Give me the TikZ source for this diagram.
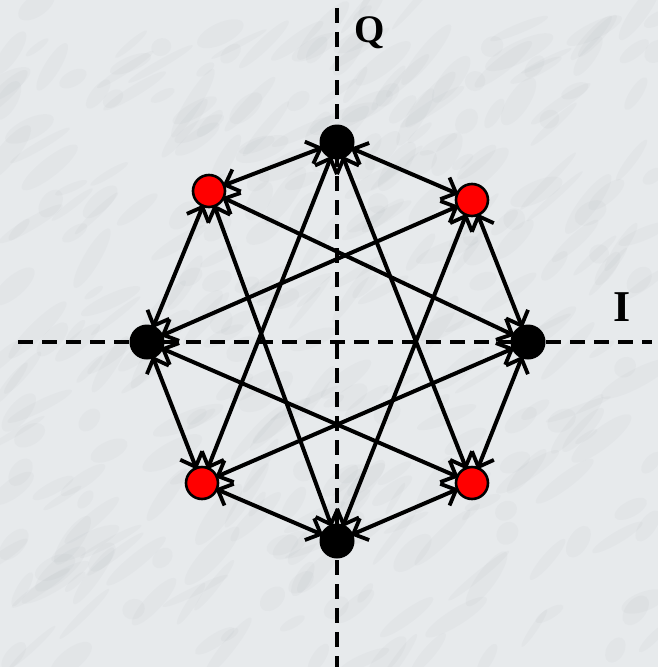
\documentclass[tikz,border=0pt]{standalone}
\usepackage{fontspec}
\setmainfont{Liberation Serif}
\usetikzlibrary{calc}
\definecolor{marble}{RGB}{231,234,236}
\definecolor{marbledark}{RGB}{140,146,152}
\definecolor{ptred}{RGB}{255,0,0}
\tikzset{
  blackpt/.style={circle, fill=black, minimum size=35pt, inner sep=0pt},
  redpt/.style={circle, fill=ptred, draw=black, line width=2.6pt, minimum size=32pt, inner sep=0pt},
  axisline/.style={line width=3.2pt, dash pattern=on 15pt off 9pt},
  trans/.style={line width=4pt},
  barbline/.style={line width=3.8pt, line cap=butt, line join=miter},
  axlabel/.style={inner sep=0pt}
}
\begin{document}
\begin{tikzpicture}[x=1pt,y=-1pt]
\useasboundingbox (0,0) rectangle (658,667);
\fill[marble] (0,0) rectangle (658,667);
% mottled marble texture
\pgfmathsetseed{7}
\begin{scope}[marbledark]
\foreach \k in {1,...,360}{
  \pgfmathsetmacro{\px}{rnd*658}
  \pgfmathsetmacro{\py}{rnd*667}
  \pgfmathsetmacro{\rx}{10+rnd*30}
  \pgfmathsetmacro{\ry}{3+rnd*8}
  \pgfmathsetmacro{\ang}{20+rnd*40}
  \fill[opacity=0.05, rotate around={\ang:(\px,\py)}] (\px,\py) ellipse ({\rx} and {\ry});
}
\end{scope}
% axes
\coordinate (qtop) at (337,8);
\coordinate (qbot) at (337,667);
\coordinate (ileft) at (18,342);
\coordinate (iright) at (652,342);
\draw[axisline] (qtop) -- (qbot);
\draw[axisline] (ileft) -- (iright);
\node[axlabel, font=\bfseries\fontsize{39}{39}\selectfont] (Q) at (370,33) {Q};
\node[axlabel, font=\bfseries\fontsize{44}{44}\selectfont] (I) at (622,307) {I};
% points
\node[blackpt] (T) at (337,142) {};
\node[blackpt] (L) at (147,342) {};
\node[blackpt] (R) at (528,342) {};
\node[blackpt] (B) at (337,541) {};
\node[redpt] (UL) at (209,191) {};
\node[redpt] (UR) at (472,200) {};
\node[redpt] (LL) at (202,483) {};
\node[redpt] (LR) at (472,483) {};
% transitions with V-shaped heads at both ends
\foreach \s in {T,L,R,B}{
  \foreach \t in {UL,UR,LL,LR}{
    \draw[trans] (\s) -- (\t) coordinate[pos=0] (ea) coordinate[pos=1] (eb);
    \draw[barbline] ($(ea)!17pt!44:(eb)$) -- (ea) -- ($(ea)!17pt!-44:(eb)$);
    \draw[barbline] ($(eb)!17pt!44:(ea)$) -- (eb) -- ($(eb)!17pt!-44:(ea)$);
  }
}
\end{tikzpicture}
\end{document}
